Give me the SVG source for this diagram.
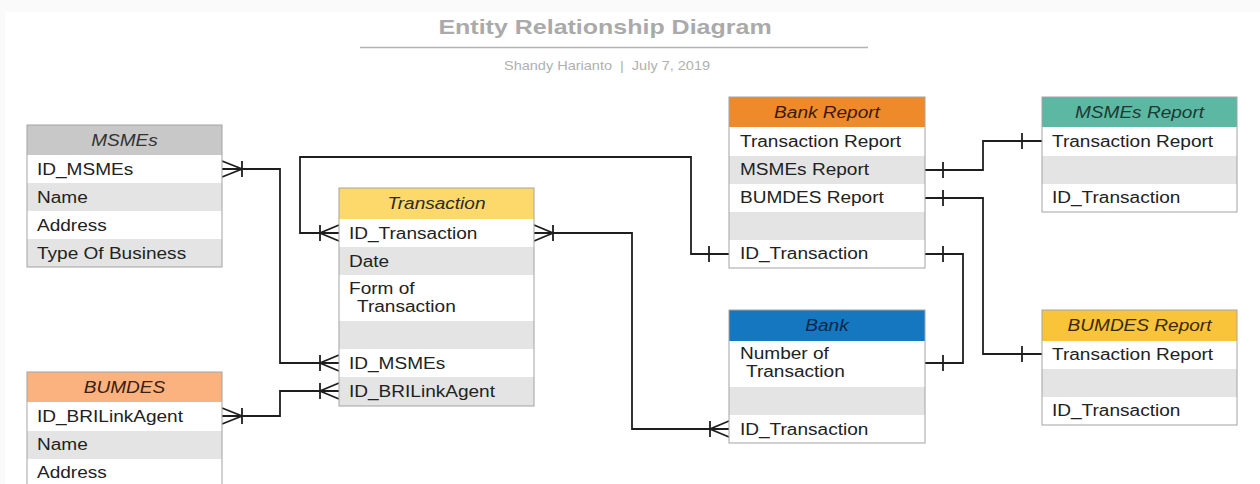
<svg xmlns="http://www.w3.org/2000/svg" width="1260" height="484" viewBox="0 0 1260 484">
<style>
text{font-family:"Liberation Sans",Arial,sans-serif;font-size:16px;fill:#222}
.h{font-style:italic;text-anchor:middle}
.box{fill:none;stroke:#a3a3a3;stroke-width:1}
.w{fill:#ffffff}
.g{fill:#e4e4e4}
.cn{fill:none;stroke:#1e1e1e;stroke-width:1.8}
</style>
<rect width="1260" height="484" fill="#fafafa"/>
<rect x="5" y="12" width="1255" height="472" fill="#ffffff"/>
<g id="title">
<text transform="translate(605 34) scale(1.19 1)" style="font-size:21px;font-weight:bold;fill:#aaaaaa;text-anchor:middle">Entity Relationship Diagram</text>
<line x1="360" y1="47.5" x2="868" y2="47.5" stroke="#b3b3b3" stroke-width="1.5"/>
<text transform="translate(607 70) scale(1.19 1)" style="font-size:12.2px;fill:#b0b0b0;text-anchor:middle;white-space:pre" xml:space="preserve">Shandy Harianto  |  July 7, 2019</text>
</g>
<g id="connectors">
<path class="cn" d="M222,169 H280 V363 H339 M222,161 L242,169 L222,177 M242,161 V177 M320,355 V371 M339,355 L320,363 L339,371"/>
<path class="cn" d="M222,416 H280 V391 H339 M222,408 L242,416 L222,424 M242,408 V424 M320,383 V399 M339,383 L320,391 L339,399"/>
<path class="cn" d="M339,233 H300 V157 H691 V254 H729 M320,225 V241 M339,225 L320,233 L339,241 M709,246 V262"/>
<path class="cn" d="M534,233 H632 V429 H729 M534,225 L553,233 L534,241 M553,225 V241 M710,421 V437 M729,421 L710,429 L729,437"/>
<path class="cn" d="M925,170 H983 V141 H1042 M943,162 V178 M1022,133 V149"/>
<path class="cn" d="M925,198 H983 V354 H1042 M943,190 V206 M1022,346 V362"/>
<path class="cn" d="M925,254 H963 V363 H925 M943,246 V262 M943,355 V371"/>
</g>
<g id="msmes">
<rect x="27" y="125" width="195" height="30" fill="#c8c8c8"/>
<rect class="w" x="27" y="155" width="195" height="28"/>
<rect class="g" x="27" y="183" width="195" height="28"/>
<rect class="w" x="27" y="211" width="195" height="28"/>
<rect class="g" x="27" y="239" width="195" height="28"/>
<rect class="box" x="27" y="125" width="195" height="142"/>
<text class="h" transform="translate(124.5 145.5) scale(1.19 1)" style="fill:#333">MSMEs</text>
<text transform="translate(37 175) scale(1.19 1)">ID_MSMEs</text>
<text transform="translate(37 203) scale(1.19 1)">Name</text>
<text transform="translate(37 231) scale(1.19 1)">Address</text>
<text transform="translate(37 259) scale(1.19 1)">Type Of Business</text>
</g>
<g id="transaction">
<rect x="339" y="188" width="195" height="31" fill="#fcd96a"/>
<rect class="w" x="339" y="219" width="195" height="28"/>
<rect class="g" x="339" y="247" width="195" height="28"/>
<rect class="w" x="339" y="275" width="195" height="46"/>
<rect class="g" x="339" y="321" width="195" height="28"/>
<rect class="w" x="339" y="349" width="195" height="28"/>
<rect class="g" x="339" y="377" width="195" height="29"/>
<rect class="box" x="339" y="188" width="195" height="218"/>
<text class="h" transform="translate(436.5 209) scale(1.19 1)" style="fill:#2a2a2a">Transaction</text>
<text transform="translate(349 239) scale(1.19 1)">ID_Transaction</text>
<text transform="translate(349 267) scale(1.19 1)">Date</text>
<text transform="translate(349 294) scale(1.19 1)">Form of</text>
<text transform="translate(357 312) scale(1.19 1)">Transaction</text>
<text transform="translate(349 369) scale(1.19 1)">ID_MSMEs</text>
<text transform="translate(349 397) scale(1.19 1)">ID_BRILinkAgent</text>
</g>
<g id="bank-report">
<rect x="729" y="97" width="196" height="30" fill="#ef8a2a"/>
<rect class="w" x="729" y="127" width="196" height="29"/>
<rect class="g" x="729" y="156" width="196" height="28"/>
<rect class="w" x="729" y="184" width="196" height="28"/>
<rect class="g" x="729" y="212" width="196" height="28"/>
<rect class="w" x="729" y="240" width="196" height="28"/>
<rect class="box" x="729" y="97" width="196" height="171"/>
<text class="h" transform="translate(827 117.5) scale(1.19 1)" style="fill:#3a1a06">Bank Report</text>
<text transform="translate(740 147) scale(1.19 1)">Transaction Report</text>
<text transform="translate(740 175) scale(1.19 1)">MSMEs Report</text>
<text transform="translate(740 203) scale(1.19 1)">BUMDES Report</text>
<text transform="translate(740 259) scale(1.19 1)">ID_Transaction</text>
</g>
<g id="msmes-report">
<rect x="1042" y="97" width="195" height="30" fill="#5cb7a3"/>
<rect class="w" x="1042" y="127" width="195" height="29"/>
<rect class="g" x="1042" y="156" width="195" height="28"/>
<rect class="w" x="1042" y="184" width="195" height="28"/>
<rect class="box" x="1042" y="97" width="195" height="115"/>
<text class="h" transform="translate(1139.5 117.5) scale(1.19 1)" style="fill:#1c3a33">MSMEs Report</text>
<text transform="translate(1052 147) scale(1.19 1)">Transaction Report</text>
<text transform="translate(1052 203) scale(1.19 1)">ID_Transaction</text>
</g>
<g id="bumdes">
<rect x="27" y="372" width="195" height="30" fill="#fbb27f"/>
<rect class="w" x="27" y="402" width="195" height="29"/>
<rect class="g" x="27" y="431" width="195" height="28"/>
<rect class="w" x="27" y="459" width="195" height="28"/>
<rect class="box" x="27" y="372" width="195" height="115"/>
<text class="h" transform="translate(124.5 392.5) scale(1.19 1)" style="fill:#3a2010">BUMDES</text>
<text transform="translate(37 422) scale(1.19 1)">ID_BRILinkAgent</text>
<text transform="translate(37 450) scale(1.19 1)">Name</text>
<text transform="translate(37 478) scale(1.19 1)">Address</text>
</g>
<g id="bank">
<rect x="729" y="310" width="196" height="31" fill="#1577bf"/>
<rect class="w" x="729" y="341" width="196" height="46"/>
<rect class="g" x="729" y="387" width="196" height="28"/>
<rect class="w" x="729" y="415" width="196" height="28"/>
<rect class="box" x="729" y="310" width="196" height="133"/>
<text class="h" transform="translate(827 331) scale(1.19 1)" style="fill:#0c2747">Bank</text>
<text transform="translate(740 359) scale(1.19 1)">Number of</text>
<text transform="translate(746 377) scale(1.19 1)">Transaction</text>
<text transform="translate(740 435) scale(1.19 1)">ID_Transaction</text>
</g>
<g id="bumdes-report">
<rect x="1042" y="310" width="195" height="31" fill="#f9c33a"/>
<rect class="w" x="1042" y="341" width="195" height="28"/>
<rect class="g" x="1042" y="369" width="195" height="28"/>
<rect class="w" x="1042" y="397" width="195" height="28"/>
<rect class="box" x="1042" y="310" width="195" height="115"/>
<text class="h" transform="translate(1139.5 331) scale(1.19 1)" style="fill:#3a2a06">BUMDES Report</text>
<text transform="translate(1052 360) scale(1.19 1)">Transaction Report</text>
<text transform="translate(1052 416) scale(1.19 1)">ID_Transaction</text>
</g>
</svg>
